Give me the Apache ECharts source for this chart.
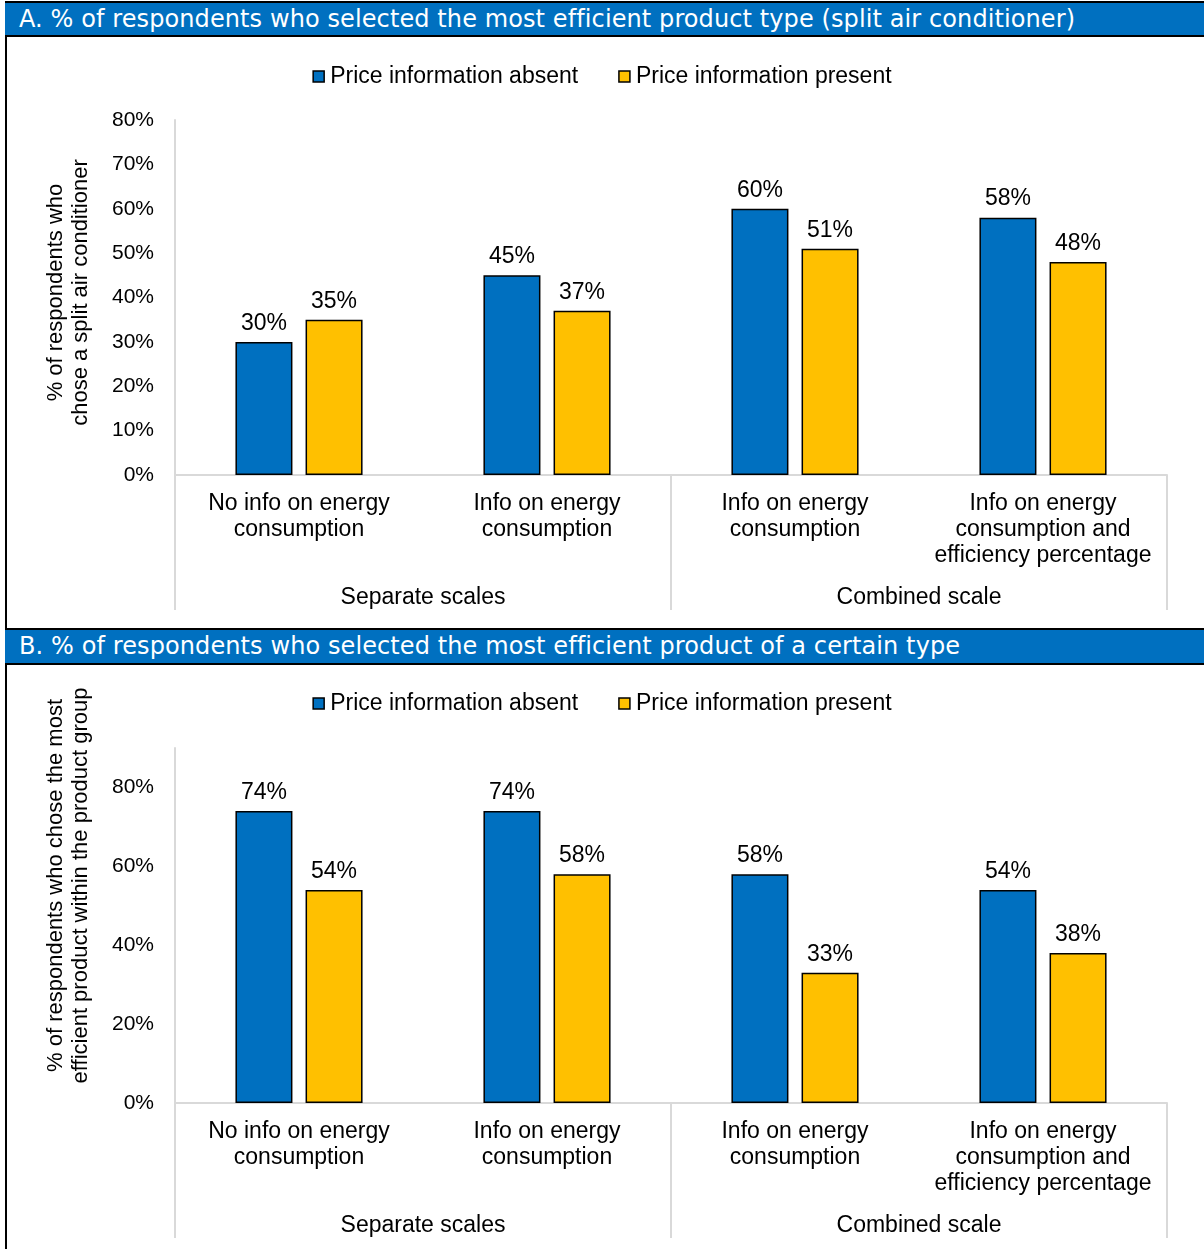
<!DOCTYPE html>
<html>
<head>
<meta charset="utf-8">
<script src="https://cdn.jsdelivr.net/npm/echarts@6/dist/echarts.min.js"></script>
<style>
  body { margin: 0; background: #fff; width: 1204px; height: 1249px; position: relative; overflow: hidden; }
  .edge { position: absolute; left: 5px; top: 1px; width: 2px; height: 1248px; background: #000; }
  .head { position: absolute; left: 5px; width: 1199px; background: #0070C0; border-top: 2px solid #000; border-bottom: 2px solid #000;
          color: #fff; font-family: "DejaVu Sans", Verdana, sans-serif; font-size: 24px; letter-spacing: 0.1px; line-height: 32px; padding-left: 14px; box-sizing: border-box; white-space: nowrap; }
  .chart { position: absolute; left: 0; width: 1204px; }
</style>
</head>
<body>
<div class="edge"></div>
<div class="head" style="top:1px;height:36px;">A. % of respondents who selected the most efficient product type (split air conditioner)</div>
<div id="chartA" class="chart" style="top:38px;height:590px;"></div>
<div class="head" style="top:628px;height:37px;">B. % of respondents who selected the most efficient product of a certain type</div>
<div id="chartB" class="chart" style="top:665px;height:584px;"></div>
<script>
var categories = ['No info on energy\nconsumption', 'Info on energy\nconsumption', 'Info on energy\nconsumption', 'Info on energy\nconsumption and\nefficiency percentage'];
var groups = ['Separate scales', 'Combined scale'];
var seriesNames = ['Price information absent', 'Price information present'];
var colors = ['#0070C0', '#FFC000'];

// panel A: chose a split air conditioner
var absentA = [30, 45, 60, 58];
var presentA = [35, 37, 51, 48];
// panel B: chose most efficient within group
var absentB = [74, 74, 58, 54];
var presentB = [54, 58, 33, 38];

var font = "'Liberation Sans', Arial, sans-serif";
var grey = '#d9d9d9';

function buildOption(absent, present, yName, yMax, yInterval, nameShift, gridTop, gridBottom) {
	var mk = function (i, data) {
		return {
			name: seriesNames[i],
			type: 'bar',
			data: data,
			barWidth: 57,
			barGap: '23%',
			itemStyle: { color: colors[i], borderColor: '#000', borderWidth: 1.5 },
			label: {
				show: true, position: 'top', distance: 7,
				color: '#000', fontFamily: font, fontSize: 23,
				formatter: function (p) { return Math.round(p.value) + '%'; }
			}
		};
	};
	return {
		animation: false,
		legend: {
			top: 22, left: 'center',
			itemWidth: 11, itemHeight: 11, itemGap: 40,
			icon: 'rect',
			itemStyle: { borderColor: '#000', borderWidth: 1.5 },
			textStyle: { fontFamily: font, fontSize: 23, color: '#000', padding: [0, 0, 0, 1] },
			data: seriesNames
		},
		grid: { left: 175, right: 37, top: gridTop, bottom: gridBottom },
		xAxis: [{
			type: 'category',
			data: categories,
			axisLine: { lineStyle: { color: grey, width: 2 } },
			axisTick: { show: false },
			axisLabel: { interval: 0, margin: 16, color: '#000', fontFamily: font, fontSize: 23, lineHeight: 26 }
		}, {
			type: 'category',
			data: groups,
			position: 'bottom',
			axisLine: { show: false },
			axisTick: { show: true, length: 135, lineStyle: { color: grey, width: 2 } },
			axisLabel: { interval: 0, margin: 111, color: '#000', fontFamily: font, fontSize: 23 }
		}],
		yAxis: {
			type: 'value',
			min: 0, max: yMax, interval: yInterval,
			name: yName,
			nameLocation: 'middle',
			nameRotate: 90,
			nameGap: 82,
			nameTextStyle: { fontFamily: font, fontSize: 22, color: '#000', lineHeight: 25, padding: [0, 0, 0, nameShift] },
			axisLine: { show: true, lineStyle: { color: grey, width: 2 } },
			axisTick: { show: false },
			splitLine: { show: false },
			axisLabel: {
				margin: 21, color: '#000', fontFamily: font, fontSize: 21,
				showMaxLabel: yMax % yInterval === 0,
				formatter: '{value}%'
			}
		},
		series: [mk(0, absent), mk(1, present)]
	};
}

var chartA = echarts.init(document.getElementById('chartA'));
chartA.setOption(buildOption(absentA, presentA,
	'% of respondents who\nchose a split air conditioner', 80, 10, 10, 82, 153));

var chartB = echarts.init(document.getElementById('chartB'));
chartB.setOption(buildOption(absentB, presentB,
	'% of respondents who chose the most\nefficient product within the product group', 90, 20, 80, 83, 146));
</script>
</body>
</html>
